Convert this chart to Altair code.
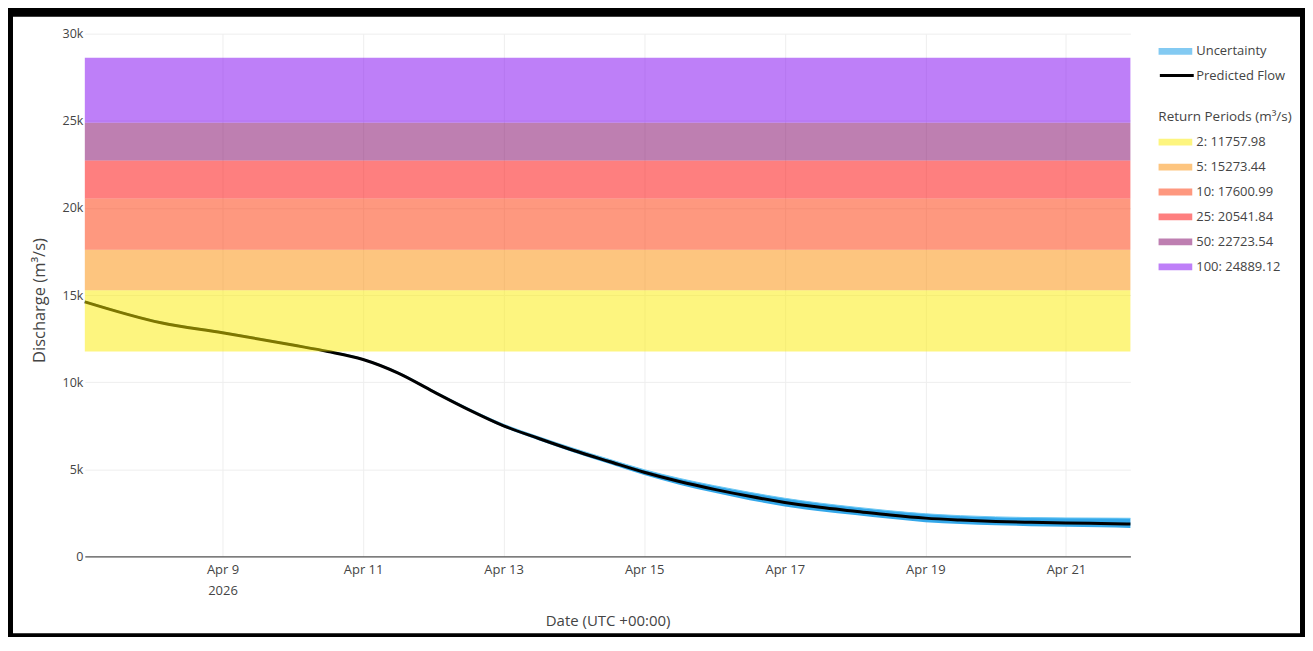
import altair as alt
import pandas as pd

# ---------------- data ----------------
dates = [
    "2026-04-07T01:00:00Z", "2026-04-08T03:00:00Z", "2026-04-09T00:00:00Z",
    "2026-04-10T00:00:00Z", "2026-04-10T12:00:00Z", "2026-04-11T00:00:00Z",
    "2026-04-11T12:00:00Z", "2026-04-12T00:00:00Z", "2026-04-12T12:00:00Z",
    "2026-04-13T00:00:00Z", "2026-04-13T12:00:00Z", "2026-04-14T00:00:00Z",
    "2026-04-14T12:00:00Z", "2026-04-15T00:00:00Z", "2026-04-15T12:00:00Z",
    "2026-04-16T00:00:00Z", "2026-04-16T12:00:00Z", "2026-04-17T00:00:00Z",
    "2026-04-17T12:00:00Z", "2026-04-18T00:00:00Z", "2026-04-18T12:00:00Z",
    "2026-04-19T00:00:00Z", "2026-04-19T12:00:00Z", "2026-04-20T00:00:00Z",
    "2026-04-20T12:00:00Z", "2026-04-21T00:00:00Z", "2026-04-21T12:00:00Z",
    "2026-04-21T22:00:00Z",
]
flow = [
    14610, 13410, 12840, 12130, 11760, 11300, 10520, 9460, 8430, 7500,
    6770, 6080, 5450, 4830, 4300, 3850, 3450, 3100, 2820, 2600, 2380,
    2200, 2090, 2010, 1960, 1920, 1890, 1860,
]
upper = [
    14660, 13460, 12890, 12180, 11810, 11350, 10580, 9520, 8500, 7590,
    6870, 6200, 5580, 4980, 4480, 4060, 3680, 3340, 3060, 2830, 2620,
    2450, 2340, 2270, 2230, 2210, 2200, 2190,
]
lower = [
    14560, 13360, 12790, 12080, 11710, 11250, 10460, 9400, 8360, 7410,
    6670, 5960, 5320, 4680, 4120, 3650, 3230, 2870, 2590, 2380, 2160,
    1970, 1860, 1790, 1740, 1700, 1670, 1640,
]

rp_labels = ["2: 11757.98", "5: 15273.44", "10: 17600.99",
             "25: 20541.84", "50: 22723.54", "100: 24889.12"]
rp_low = [11757.98, 15273.44, 17600.99, 20541.84, 22723.54, 24889.12]
rp_high = [15273.44, 17600.99, 20541.84, 22723.54, 24889.12, 28620.0]
rp_colors = [
    "rgba(251,235,0,0.5)", "rgba(251,140,0,0.5)", "rgba(253,50,0,0.5)",
    "rgba(253,0,0,0.5)", "rgba(125,0,100,0.5)", "rgba(125,0,241,0.5)",
]

unc_name = "Uncertainty"
unc_color = "#1E9FE8"
flow_name = "Predicted Flow"
flow_color = "#000000"

x_start = "2026-04-07T01:00:00Z"
x_end = "2026-04-21T22:00:00Z"
tick_dates = ["2026-04-09", "2026-04-11", "2026-04-13", "2026-04-15",
              "2026-04-17", "2026-04-19", "2026-04-21"]
y_ticks = [0, 5000, 10000, 15000, 20000, 25000, 30000]

# ---------------- tables ----------------
flow_df = pd.DataFrame({"date": dates, "flow": flow,
                        "series": [flow_name] * len(dates)})
unc_df = pd.DataFrame({"date": dates, "upper": upper, "lower": lower,
                       "useries": [unc_name] * len(dates)})
rp_df = pd.DataFrame({"date": [x_start] * 6, "date2": [x_end] * 6,
                      "low": rp_low, "high": rp_high, "period": rp_labels})

FONT = "Open Sans"
W, H = 1048, 524

tick_ms = [pd.Timestamp(d, tz="UTC").value // 10**6 for d in tick_dates]
xscale = alt.Scale(type="utc", domain=[pd.Timestamp(x_start).value // 10**6,
                                       pd.Timestamp(x_end).value // 10**6])
yscale = alt.Scale(domain=[0, 30000], nice=False, zero=False)

xaxis = alt.Axis(
    values=tick_ms,
    labelExpr="utcdate(datum.value) == 9 ? [utcFormat(datum.value, '%b %-d'), '2026'] : utcFormat(datum.value, '%b %-d')",
    title="Date (UTC +00:00)", titleX=W / 2, titleY=64, titleBaseline="middle",
    titleAlign="center",
    titleFont=FONT, titleFontSize=15, titleFontWeight="normal", titleColor="#444",
    labelFont=FONT, labelFontSize=13, labelColor="#444", labelPadding=7,
    labelLineHeight=21.5,
    ticks=False, grid=True, gridColor="#eeeeee", gridWidth=1,
    domainColor="#555", domainWidth=1.3,
)
yaxis = alt.Axis(
    values=y_ticks,
    labelExpr="datum.value == 0 ? '0' : format(datum.value / 1000, 'd') + 'k'",
    title="Discharge (m³/s)", titleX=-45, titleY=267, titleAngle=-90,
    titleBaseline="middle", titleAlign="center",
    titleFont=FONT, titleFontSize=16.5, titleFontWeight="normal", titleColor="#444",
    labelFont=FONT, labelFontSize=12.5, labelColor="#444", labelPadding=2,
    ticks=False, domain=False, grid=True, gridColor="#eeeeee", gridWidth=1,
)

common_legend = dict(
    orient="none", legendX=1076, clipHeight=16, padding=0,
    labelFont=FONT, labelFontSize=13, labelColor="#444",
)

unc = alt.Chart(unc_df).mark_area(opacity=0.9, interpolate="monotone").encode(
    x=alt.X("date:T", scale=xscale, axis=xaxis),
    y=alt.Y("upper:Q", scale=yscale, axis=yaxis),
    y2="lower:Q",
    color=alt.Color("useries:N",
                    scale=alt.Scale(domain=[unc_name], range=[unc_color]),
                    legend=alt.Legend(
                        title=None, legendY=9.7, labelOffset=4,
                        symbolType="M-1,-0.2H1V0.2H-1Z", symbolSize=1156,
                        symbolStrokeWidth=0, symbolOpacity=0.55,
                        **common_legend)),
)

unc_edge = alt.Chart(unc_df).mark_line(
    color="#6CC7F2", strokeWidth=1, interpolate="monotone"
).encode(
    x=alt.X("date:T", scale=xscale, axis=xaxis),
    y=alt.Y("upper:Q", scale=yscale, axis=yaxis),
)

line = alt.Chart(flow_df).mark_line(strokeWidth=3, interpolate="monotone").encode(
    x=alt.X("date:T", scale=xscale, axis=xaxis),
    y=alt.Y("flow:Q", scale=yscale, axis=yaxis),
    stroke=alt.Stroke("series:N",
                      scale=alt.Scale(domain=[flow_name], range=[flow_color]),
                      legend=alt.Legend(
                          title=None, legendY=34, labelOffset=1,
                          symbolType="stroke", symbolSize=1156,
                          symbolStrokeWidth=3,
                          **common_legend)),
)

bands = alt.Chart(rp_df).mark_rect().encode(
    x=alt.X("date:T", scale=xscale, axis=xaxis),
    x2="date2:T",
    y=alt.Y("low:Q", scale=yscale, axis=yaxis),
    y2="high:Q",
    fill=alt.Fill("period:N",
                  scale=alt.Scale(domain=rp_labels, range=rp_colors),
                  legend=alt.Legend(
                      title="Return Periods (m³/s)", legendY=76.8, labelOffset=4,
                      symbolType="M-1,-0.2H1V0.2H-1Z", symbolSize=1156,
                      symbolStrokeWidth=0, rowPadding=9, titlePadding=10.4,
                      titleFont=FONT, titleFontSize=13.5, titleFontWeight="normal",
                      titleColor="#444",
                      **common_legend)),
)

frame = alt.Chart(pd.DataFrame({"k": [0]})).mark_rect(
    fillOpacity=0, stroke="black", strokeWidth=10, clip=False
).encode(
    x=alt.value(-77), x2=alt.value(1223), y=alt.value(-22), y2=alt.value(606)
)

chart = alt.layer(unc, unc_edge, line, bands, frame).resolve_legend(
    color="independent", stroke="independent", fill="independent"
).properties(
    width=W, height=H,
    autosize=alt.AutoSizeParams(type="none"),
    padding={"left": 77, "top": 25, "right": 175, "bottom": 80},
    background="white",
).configure_view(stroke=None)

chart.save("out.html", embed_options={"renderer": "svg", "actions": False})
